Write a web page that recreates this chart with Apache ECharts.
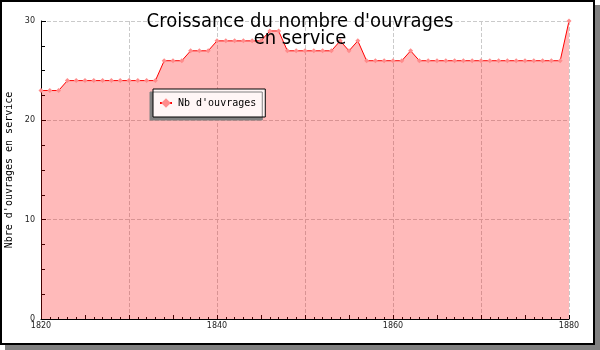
<!DOCTYPE html>
<html>
<head>
<meta charset="utf-8">
<script src="https://cdn.jsdelivr.net/npm/echarts@6/dist/echarts.min.js"></script>
<style>html,body{margin:0;padding:0;background:#fff}#c{width:600px;height:350px}</style>
</head>
<body>
<div id="c"></div>
<script>
const titleText = "Croissance du nombre d'ouvrages\nen service";
const yAxisName = "Nbre d'ouvrages en service";
const seriesName = "Nb d'ouvrages";
const years = [1820,1821,1822,1823,1824,1825,1826,1827,1828,1829,
  1830,1831,1832,1833,1834,1835,1836,1837,1838,1839,
  1840,1841,1842,1843,1844,1845,1846,1847,1848,1849,
  1850,1851,1852,1853,1854,1855,1856,1857,1858,1859,
  1860,1861,1862,1863,1864,1865,1866,1867,1868,1869,
  1870,1871,1872,1873,1874,1875,1876,1877,1878,1879,1880];
const ouvrages = [23,23,23,24,24,24,24,24,24,24,
  24,24,24,24,26,26,26,27,27,27,
  28,28,28,28,28,28,29,29,27,27,
  27,27,27,27,28,27,28,26,26,26,
  26,26,27,26,26,26,26,26,26,26,
  26,26,26,26,26,26,26,26,26,26,30];
const xLabelTicks = [1820,1840,1860,1880];
const yLabelTicks = [0,10,20,30];

const chart = echarts.init(document.getElementById('c'), null, {renderer:'canvas'});
const tickFont = {fontFamily:'DejaVu Sans', fontSize:8, color:'#222'};
const gridLine = {show:true, lineStyle:{color:'#cacaca', type:[4,2], width:1}};
chart.setOption({
  animation:false,
  backgroundColor:'#fff',
  graphic:[
    {type:'rect', z:-20, shape:{x:5,y:5,width:595,height:345}, style:{fill:'#808080'}},
    {type:'rect', z:-19, shape:{x:1,y:1,width:593,height:343}, style:{fill:'#fff', stroke:'#000', lineWidth:2}}
  ],
  title:{
    text:titleText, left:'center', top:8,
    textStyle:{fontFamily:'DejaVu Sans Condensed, DejaVu Sans', fontSize:20, fontWeight:'normal', color:'#000', lineHeight:17, align:'center'}
  },
  legend:{
    left:153, top:89,
    padding:[9,9,9,6],
    itemWidth:12, itemHeight:12,
    backgroundColor:'#fff6f6', borderColor:'#000', borderWidth:1,
    shadowColor:'#808080', shadowBlur:0, shadowOffsetX:-3, shadowOffsetY:3,
    textStyle:{fontFamily:'DejaVu Sans Mono', fontSize:10, color:'#000', padding:[0,0,0,1]},
    data:[seriesName]
  },
  grid:{left:41, right:31, top:21, bottom:31, outerBoundsMode:'none', containLabel:false},
  xAxis:[
    {type:'value', min:1820, max:1880, interval:10,
      axisLine:{show:true, lineStyle:{color:'#000', width:1}},
      axisTick:{show:false},
      axisLabel:Object.assign({margin:3, formatter:v=>xLabelTicks.includes(v)?String(v):''}, tickFont),
      splitLine:gridLine
    },
    {type:'value', min:1820, max:1880, interval:5, position:'bottom',
      axisLine:{show:false},
      axisTick:{show:true, inside:true, length:4, lineStyle:{color:'#000'}},
      minorTick:{show:true, splitNumber:5, length:2, lineStyle:{color:'#000'}},
      axisLabel:{show:false},
      splitLine:{show:false}
    }
  ],
  yAxis:{
    type:'value', min:0, max:30, interval:10,
    name:yAxisName, nameLocation:'middle', nameGap:26,
    nameTextStyle:{fontFamily:'DejaVu Sans Mono', fontSize:10, color:'#000'},
    axisLine:{show:true, lineStyle:{color:'#000', width:1}},
    axisTick:{show:true, inside:true, length:5, lineStyle:{color:'#000'}},
    minorTick:{show:true, splitNumber:4, length:4, lineStyle:{color:'#000'}},
    axisLabel:Object.assign({margin:6, formatter:v=>yLabelTicks.includes(v)?String(v):''}, tickFont),
    splitLine:gridLine
  },
  series:[{
    name:seriesName, type:'line', xAxisIndex:0,
    data:years.map((y,i)=>[y, ouvrages[i]]),
    symbol:'diamond', symbolSize:5, showSymbol:true, showAllSymbol:true,
    itemStyle:{color:'#ff8c8c'},
    lineStyle:{color:'#ff0000', width:1},
    areaStyle:{color:'rgba(255,0,0,0.27)', opacity:1, origin:'start'}
  }]
});
</script>
</body>
</html>
